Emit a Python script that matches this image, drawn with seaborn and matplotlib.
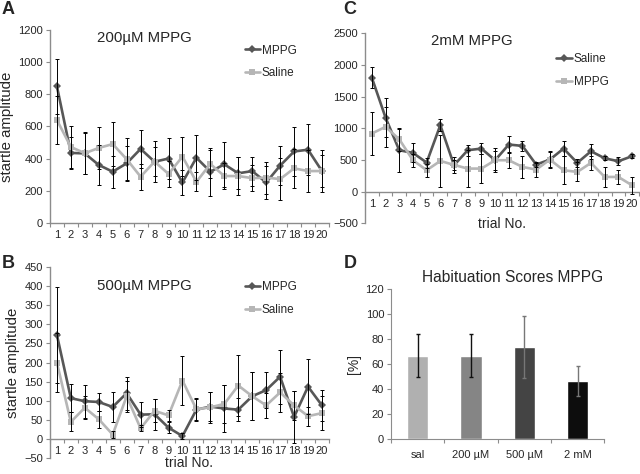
"""
Startle habituation figure: trial curves for three MPPG doses + habituation scores
"""

# %% Imports
import numpy as np
import pandas as pd
import seaborn as sns
import matplotlib.pyplot as plt
from matplotlib.ticker import FixedLocator, FixedFormatter, NullFormatter


# %% Data
trials = list(range(1, 21))

# A: 200 uM MPPG
a_mppg = [850, 435, 432, 360, 318, 370, 460, 380, 400, 251, 405, 318, 364, 308, 322, 251, 356, 444, 455, 322]
a_mppg_sem = [170, 100, 130, 125, 100, 110, 117, 90, 130, 80, 140, 150, 140, 100, 90, 100, 120, 150, 160, 130]
a_saline = [640, 472, 433, 466, 490, 396, 287, 381, 304, 412, 255, 366, 291, 291, 278, 281, 272, 339, 322, 322]
a_saline_sem = [150, 130, 130, 130, 135, 130, 82, 130, 80, 120, 60, 90, 80, 120, 80, 100, 130, 120, 130, 100]

# B: 500 uM MPPG
b_mppg = [272, 107, 99, 97, 84, 120, 64, 65, 30, 8, 77, 85, 80, 77, 112, 128, 163, 58, 137, 88]
b_mppg_sem = [125, 37, 43, 23, 40, 43, 32, 40, 15, 8, 28, 37, 62, 30, 62, 48, 70, 68, 72, 40]
b_saline = [200, 45, 82, 52, 12, 112, 28, 74, 62, 153, 78, 83, 92, 140, 112, 88, 122, 88, 60, 68]
b_saline_sem = [78, 25, 30, 22, 10, 40, 8, 30, 15, 65, 30, 40, 50, 80, 62, 32, 50, 38, 25, 45]

# C: 2 mM MPPG
c_saline = [1800, 1170, 654, 612, 459, 1050, 417, 654, 680, 496, 744, 722, 427, 506, 680, 454, 638, 527, 480, 560]
c_saline_sem = [165, 310, 340, 150, 80, 90, 80, 90, 90, 150, 130, 80, 40, 140, 120, 60, 120, 30, 60, 30]
c_mppg = [918, 1023, 828, 496, 338, 485, 422, 364, 364, 496, 496, 390, 348, 506, 338, 311, 454, 232, 232, 100]
c_mppg_sem = [340, 320, 180, 100, 100, 410, 120, 290, 230, 190, 130, 170, 110, 120, 220, 150, 110, 160, 110, 130]

# D: habituation scores
groups = ['sal', '200 µM', '500 µM', '2 mM']
scores = [67, 67, 74, 47]
scores_err = [17, 17, 25, 12]

dark = '#575757'
light = '#b6b6b6'
axis_grey = '#8c8c8c'
bar_colors = ['#b0b0b0', '#858585', '#444444', '#0d0d0d']
bar_err_colors = ['#111111', '#111111', '#777777', '#777777']

sns.set_style('white')
plt.rcParams['font.family'] = ['Liberation Sans', 'DejaVu Sans']


# %% Helpers
def style_axis(ax, ylim, yticks, zero_spine=False):
    ax.set_xlim(0.5, 20.5)
    ax.set_ylim(*ylim)
    ax.set_yticks(yticks)
    for side in ['top', 'right']:
        ax.spines[side].set_visible(False)
    for side in ['left', 'bottom']:
        ax.spines[side].set_color(axis_grey)
        ax.spines[side].set_linewidth(1.0)
    if zero_spine:
        ax.spines['bottom'].set_position(('data', 0))
    # category boundaries get the tick marks, labels sit at the centres
    ax.xaxis.set_major_locator(FixedLocator(np.arange(0.5, 21, 1)))
    ax.xaxis.set_major_formatter(NullFormatter())
    ax.xaxis.set_minor_locator(FixedLocator(trials))
    ax.xaxis.set_minor_formatter(FixedFormatter([str(t) for t in trials]))
    ax.tick_params(axis='x', which='major', direction='out', length=3, color=axis_grey, bottom=True)
    ax.tick_params(axis='x', which='minor', length=0, labelsize=8, pad=5, bottom=True)
    ax.tick_params(axis='y', direction='out', length=3, color=axis_grey, labelsize=8, pad=2, left=True)
    ax.set_xlabel('')
    ax.set_ylabel('')


def draw_trials(ax, dark_name, dark_vals, dark_sem, light_name, light_vals, light_sem, legend_y):
    df = pd.DataFrame({
        'trial': trials * 2,
        'amp': dark_vals + light_vals,
        'group': [dark_name] * 20 + [light_name] * 20,
    })
    sns.lineplot(data=df, x='trial', y='amp', hue='group', style='group',
                 hue_order=[dark_name, light_name], style_order=[dark_name, light_name],
                 palette={dark_name: dark, light_name: light},
                 markers={dark_name: 'D', light_name: 's'}, dashes=False,
                 markersize=4.5, markeredgewidth=0, linewidth=1.9, ax=ax)
    ax.errorbar(trials, light_vals, yerr=light_sem, fmt='none', ecolor='black',
                elinewidth=0.7, capsize=1.5, capthick=0.7, zorder=3)
    ax.errorbar(trials, dark_vals, yerr=dark_sem, fmt='none', ecolor='black',
                elinewidth=0.7, capsize=1.5, capthick=0.7, zorder=3)
    handles, labels = ax.get_legend_handles_labels()
    ax.legend(handles, labels, loc='upper left', bbox_to_anchor=(0.66, legend_y),
              frameon=False, fontsize=8.5, handlelength=1.3, handletextpad=0.15,
              labelspacing=0.9)


# %% Figure
fig = plt.figure(figsize=(6.4, 4.74), dpi=100)
ax_a = fig.add_axes([0.078, 0.530, 0.436, 0.4066])
ax_b = fig.add_axes([0.078, 0.0331, 0.436, 0.4042])
ax_c = fig.add_axes([0.5703, 0.5289, 0.428, 0.4008])
ax_d = fig.add_axes([0.611, 0.0732, 0.333, 0.3165])

# A
draw_trials(ax_a, 'MPPG', a_mppg, a_mppg_sem, 'Saline', a_saline, a_saline_sem, 0.98)
style_axis(ax_a, (0, 1200), range(0, 1201, 200))
ax_a.set_ylabel('startle amplitude', fontsize=10.8, labelpad=3)
ax_a.text(0.34, 0.995, '200µM MPPG', transform=ax_a.transAxes, ha='center', va='top', fontsize=10.8)

# B
draw_trials(ax_b, 'MPPG', b_mppg, b_mppg_sem, 'Saline', b_saline, b_saline_sem, 0.98)
style_axis(ax_b, (-50, 450), range(-50, 451, 50), zero_spine=True)
ax_b.set_ylabel('startle amplitude', fontsize=10.8, labelpad=3)
ax_b.text(0.34, 0.935, '500µM MPPG', transform=ax_b.transAxes, ha='center', va='top', fontsize=10.8)
ax_b.text(0.5, -0.022, 'trial No.', transform=ax_b.transAxes, ha='center', va='center', fontsize=10)

# C
draw_trials(ax_c, 'Saline', c_saline, c_saline_sem, 'MPPG', c_mppg, c_mppg_sem, 0.95)
style_axis(ax_c, (-500, 2500), range(-500, 2501, 500), zero_spine=True)
ax_c.text(0.39, 0.995, '2mM MPPG', transform=ax_c.transAxes, ha='center', va='top', fontsize=10.8)
ax_c.text(0.5, -0.005, 'trial No.', transform=ax_c.transAxes, ha='center', va='center', fontsize=10)

# D
sns.barplot(x=groups, y=scores, hue=groups, palette=bar_colors, width=0.4,
            legend=False, saturation=1, ax=ax_d)
for i, (s, e, c) in enumerate(zip(scores, scores_err, bar_err_colors)):
    ax_d.errorbar(i, s, yerr=e, fmt='none', ecolor=c, elinewidth=1.0,
                  capsize=1.5, capthick=1.0, zorder=3)
ax_d.set_xlim(-0.5, 3.5)
ax_d.set_ylim(0, 120)
ax_d.set_yticks(range(0, 121, 20))
for side in ['top', 'right']:
    ax_d.spines[side].set_visible(False)
for side in ['left', 'bottom']:
    ax_d.spines[side].set_color(axis_grey)
ax_d.xaxis.set_major_locator(FixedLocator(np.arange(-0.5, 4, 1)))
ax_d.xaxis.set_major_formatter(NullFormatter())
ax_d.xaxis.set_minor_locator(FixedLocator(range(4)))
ax_d.xaxis.set_minor_formatter(FixedFormatter(groups))
ax_d.tick_params(axis='x', which='major', direction='out', length=3, color=axis_grey, bottom=True)
ax_d.tick_params(axis='x', which='minor', length=0, labelsize=8, pad=8, bottom=True)
ax_d.tick_params(axis='y', direction='out', length=3, color=axis_grey, labelsize=8, pad=2, left=True)
ax_d.set_ylabel('[%]', fontsize=10, labelpad=3)
ax_d.set_xlabel('')
ax_d.set_title('Habituation Scores MPPG', fontsize=11.2, pad=5, x=0.57)

# Panel letters
for letter, (x, y) in {'A': (0.003, 0.997), 'B': (0.003, 0.462),
                       'C': (0.537, 0.997), 'D': (0.537, 0.462)}.items():
    fig.text(x, y, letter, fontsize=13, fontweight='bold', ha='left', va='top')

plt.savefig('out.png', dpi=100)
